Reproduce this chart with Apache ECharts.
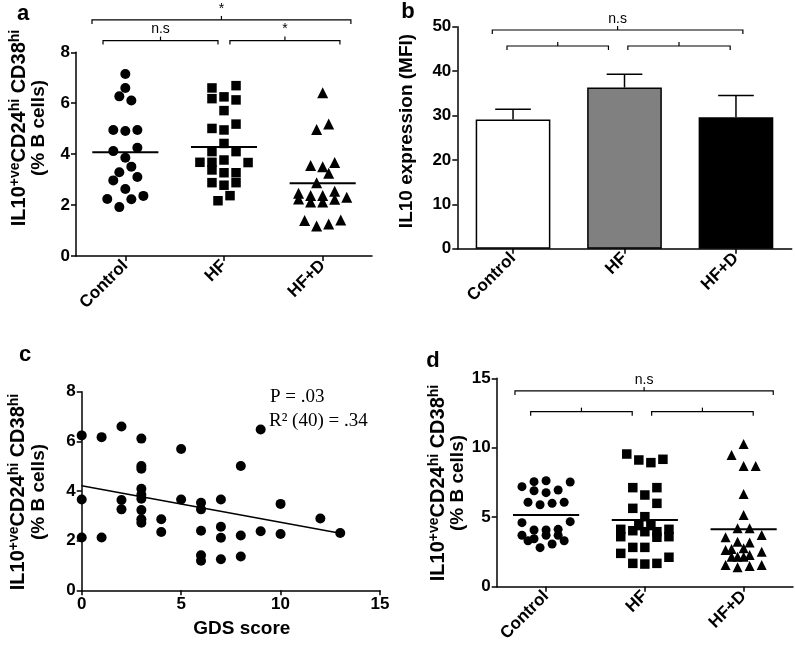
<!DOCTYPE html>
<html><head><meta charset="utf-8">
<script src="https://cdn.jsdelivr.net/npm/echarts@6/dist/echarts.min.js"></script>
<style>html,body{margin:0;padding:0;background:#fff}#c{width:795px;height:653px}</style>
</head><body><div id="c"></div>
<script>
// ---------- data ----------
const categories = ['Control', 'HF', 'HF+D'];

// Panel a: [horizontal slot, value]
const aControl = [[0,7.15],[0,6.6],[-1,6.27],[1,6.11],[-2,4.95],[0,4.91],[2,4.95],[-2,4.12],[2,4.25],[0,3.86],[1,3.51],[-1,3.29],[2,3.10],[-2,2.97],[0,2.63],[-3,2.24],[1,2.23],[3,2.36],[-1,1.92]];
const aHF = [[-2,6.6],[2,6.69],[-2,6.18],[0,6.25],[2,6.13],[0,5.71],[-2,5.01],[0,4.95],[2,5.18],[0,4.42],[-2,4.10],[2,4.10],[-4,3.68],[-2,3.68],[0,3.77],[4,3.67],[-2,3.38],[0,3.27],[2,3.27],[-2,2.88],[0,2.78],[2,2.88],[1,2.37],[-1,2.17]];
const aHFD = [[0,6.41],[-1,4.97],[1,5.18],[-2,3.55],[0,3.51],[2,3.67],[1,3.25],[-1,2.88],[-4,2.46],[-4,2.24],[-2,2.38],[-2,2.12],[0,2.38],[0,2.12],[2,2.54],[2,2.23],[4,2.31],[-3,1.39],[-1,1.18],[1,1.26],[3,1.41]];
const aMeans = [4.07, 4.28, 2.86];
const aBrackets = [
  {from: -0.338, to: 2.286, y: 9.27, label: '*'},
  {from: -0.226, to: 0.939, y: 8.46, label: 'n.s'},
  {from: 1.060, to: 2.175, y: 8.46, label: '*'}
];

// Panel b
const bMeans = [29.1, 36.3, 29.6];
const bErr = [2.3, 3.0, 4.9];
const bColors = ['#ffffff', '#808080', '#000000'];
const bBrackets = [
  {from: -0.186, to: 2.062, y: 49.26, label: 'n.s'},
  {from: -0.054, to: 0.856, y: 45.65, label: ''},
  {from: 1.030, to: 1.948, y: 45.65, label: ''}
];

// Panel c: [GDS score, value]
const cPoints = [[0,6.24],[0,3.66],[0,2.13],[1,6.17],[1,2.13],[2,6.60],[2,3.64],[2,3.26],[3,6.11],[3,5.01],[3,4.90],[3,4.09],[3,3.85],[3,3.69],[3,3.23],[3,2.86],[3,2.72],[4,2.86],[4,2.35],[5,5.69],[5,3.66],[6,3.53],[6,3.26],[6,2.40],[6,1.41],[6,1.19],[7,3.66],[7,2.56],[7,2.12],[7,1.25],[8,5.01],[8,2.21],[8,1.36],[9,6.48],[9,2.38],[10,3.48],[10,2.27],[12,2.89],[13,2.31]];
const cFit = [[0,4.21],[13,2.30]];
const cStats = ['P = .03', 'R\u00B2 (40) = .34'];

// Panel d
const dControl = [[-4,7.20],[-2,7.56],[0,7.63],[4,7.54],[-2,6.91],[0,6.77],[2,6.96],[-3,6.08],[-1,5.90],[1,6.00],[3,6.08],[-4,4.61],[4,4.68],[-2,4.08],[0,4.08],[2,4.13],[-4,3.70],[0,3.70],[2,3.70],[-3,3.31],[-2,3.45],[3,3.31],[-1,2.81],[1,3.07]];
const dHF = [[-3,9.55],[-1,9.12],[1,8.93],[3,9.17],[-2,7.13],[2,7.13],[0,6.60],[2,6.00],[-2,5.64],[0,5.04],[-1,4.40],[1,4.40],[0,3.96],[-4,4.13],[4,4.13],[-2,4.03],[2,3.96],[-4,3.60],[4,3.60],[2,3.56],[-2,2.83],[0,2.83],[-4,2.40],[4,2.12],[-2,1.68],[0,1.63],[2,1.68]];
const dHFD = [[0,10.27],[-2,9.48],[0,8.69],[2,8.69],[0,6.67],[0,5.16],[-1,4.20],[1,4.20],[-3,3.56],[3,3.72],[-1,3.24],[1,3.19],[-3,2.64],[-2,2.71],[0,2.76],[-1,2.16],[-2,2.16],[0,2.16],[1,2.28],[3,2.52],[-3,1.56],[-1,1.40],[1,1.49],[3,1.56]];
const dMeans = [5.16, 4.80, 4.13];
const dBrackets = [
  {from: -0.315, to: 2.300, y: 14.09, label: 'n.s'},
  {from: -0.156, to: 0.872, y: 12.60, label: ''},
  {from: 1.069, to: 2.097, y: 12.60, label: ''}
];

// ---------- styling ----------
const SLOT = 0.061;       // horizontal jitter step in category units
const MEAN_HALF = 0.335;  // half width of mean line in category units
const FONT = '"Liberation Sans", Arial, sans-serif';
const SERIF = '"Liberation Serif", "Times New Roman", serif';
const axisLine = {show: true, onZero: false, lineStyle: {color: '#000', width: 1.5}};
const axisTick = {show: true, length: 5, lineStyle: {color: '#000', width: 1.5}};
const tickLabel = {color: '#000', fontSize: 17, fontWeight: 'bold', fontFamily: FONT, margin: 6};

function catAxis(grid) {
  return {type: 'category', gridIndex: grid, data: categories, axisLine, axisTick: Object.assign({alignWithLabel: true}, axisTick),
    axisLabel: Object.assign({}, tickLabel, {rotate: 45, interval: 0, margin: 7}), splitLine: {show: false}};
}
function hiddenAxis(grid) {
  return {type: 'value', gridIndex: grid, min: -0.5, max: 2.5, show: false, axisLine: {show: false, onZero: false}};
}
function valAxis(grid, max, interval) {
  return {type: 'value', gridIndex: grid, min: 0, max, interval, axisLine, axisTick, axisLabel: tickLabel, splitLine: {show: false}};
}
function dots(xi, yi, data, cat, symbol, size) {
  return {type: 'scatter', xAxisIndex: xi, yAxisIndex: yi, symbol, symbolSize: size, silent: true,
    itemStyle: {color: '#000', opacity: 1}, data: data.map(p => [cat + p[0] * SLOT, p[1]])};
}
function meanSeries(xi, yi, means) {
  return {type: 'custom', xAxisIndex: xi, yAxisIndex: yi, silent: true, z: 5,
    data: means.map((m, i) => [i, m]),
    renderItem: (params, api) => {
      const a = api.coord([api.value(0) - MEAN_HALF, api.value(1)]);
      const b = api.coord([api.value(0) + MEAN_HALF, api.value(1)]);
      return {type: 'line', shape: {x1: a[0], y1: a[1], x2: b[0], y2: b[1]}, style: {stroke: '#000', lineWidth: 2}};
    }};
}
function bracketSeries(xi, yi, list) {
  return {type: 'custom', xAxisIndex: xi, yAxisIndex: yi, clip: false, silent: true,
    data: list.map(b => [b.from, b.to, b.y]),
    renderItem: (params, api) => {
      const br = list[params.dataIndex];
      const p1 = api.coord([api.value(0), api.value(2)]);
      const p2 = api.coord([api.value(1), api.value(2)]);
      const y = p1[1], mx = (p1[0] + p2[0]) / 2;
      const children = [
        {type: 'polyline', shape: {points: [[p1[0], y + 4], [p1[0], y], [p2[0], y], [p2[0], y + 4]]}, style: {stroke: '#000', lineWidth: 1.2, fill: null}},
        {type: 'line', shape: {x1: mx, y1: y, x2: mx, y2: y - 4}, style: {stroke: '#000', lineWidth: 1.2}}
      ];
      if (br.label) children.push({type: 'text', x: mx, y: y - 4, style: {text: br.label, fill: '#000', font: '14px ' + FONT, align: 'center', verticalAlign: 'bottom'}});
      return {type: 'group', children};
    }};
}

const TITLE_RICH = {
  m: {fontSize: 20, fontWeight: 'bold', fontFamily: FONT, fill: '#000', color: '#000', lineHeight: 22, verticalAlign: 'middle'},
  s: {fontSize: 14, fontWeight: 'bold', fontFamily: FONT, fill: '#000', color: '#000', lineHeight: 11, verticalAlign: 'top'}
};
const TITLE_L1 = '{m|IL10}{s|+ve}{m|CD24}{s|hi}{m| CD38}{s|hi}';
const TITLE_L2 = '(% B cells)';
function yTitle(x1, x2, y) {
  return [
    {type: 'text', x: x1, y, rotation: Math.PI / 2, style: {text: TITLE_L1, rich: TITLE_RICH, align: 'center', verticalAlign: 'middle', fill: '#000'}},
    {type: 'text', x: x2, y, rotation: Math.PI / 2, style: {text: TITLE_L2, fill: '#000', font: 'bold 19px ' + FONT, align: 'center', verticalAlign: 'middle'}}
  ];
}
function letter(x, y, t) {
  return {type: 'text', x, y, style: {text: t, fill: '#000', font: 'bold 22px ' + FONT, align: 'center', verticalAlign: 'middle'}};
}

const chart = echarts.init(document.getElementById('c'), null, {renderer: 'canvas'});
chart.setOption({
  animation: false,
  backgroundColor: '#fff',
  grid: [
    {left: 76, top: 52.3, width: 296, height: 203.7},
    {left: 457.3, top: 26.7, width: 334.4, height: 222},
    {left: 81.7, top: 391.7, width: 298.3, height: 198.6},
    {left: 496.7, top: 378.3, width: 296.3, height: 208.4}
  ],
  xAxis: [
    catAxis(0), hiddenAxis(0),
    catAxis(1), hiddenAxis(1),
    Object.assign(valAxis(2, 15, 5), {name: 'GDS score', nameLocation: 'middle', nameGap: 29,
      nameTextStyle: {color: '#000', fontSize: 19, fontWeight: 'bold', fontFamily: FONT, padding: [0, 0, 0, 22]}}),
    catAxis(3), hiddenAxis(3)
  ],
  yAxis: [valAxis(0, 8, 2), valAxis(1, 50, 10), valAxis(2, 8, 2), valAxis(3, 15, 5)],
  series: [
    // panel a
    dots(1, 0, aControl, 0, 'circle', 10),
    dots(1, 0, aHF, 1, 'rect', 9.5),
    dots(1, 0, aHFD, 2, 'triangle', 11),
    meanSeries(1, 0, aMeans),
    bracketSeries(1, 0, aBrackets),
    // panel b
    {type: 'bar', xAxisIndex: 2, yAxisIndex: 1, barWidth: '67%', silent: true,
      data: bMeans.map((v, i) => ({value: v, itemStyle: {color: bColors[i], borderColor: '#000', borderWidth: 1.5}}))},
    {type: 'custom', xAxisIndex: 2, yAxisIndex: 1, silent: true, z: 3,
      data: bMeans.map((m, i) => [i, m, m + bErr[i]]),
      renderItem: (params, api) => {
        const p0 = api.coord([api.value(0), api.value(1)]);
        const p1 = api.coord([api.value(0), api.value(2)]);
        const hw = api.size([1, 0])[0] * 0.16;
        return {type: 'group', children: [
          {type: 'line', shape: {x1: p0[0], y1: p0[1], x2: p1[0], y2: p1[1]}, style: {stroke: '#000', lineWidth: 1.5}},
          {type: 'line', shape: {x1: p1[0] - hw, y1: p1[1], x2: p1[0] + hw, y2: p1[1]}, style: {stroke: '#000', lineWidth: 1.5}}
        ]};
      }},
    bracketSeries(3, 1, bBrackets),
    // panel c
    {type: 'scatter', xAxisIndex: 4, yAxisIndex: 2, symbol: 'circle', symbolSize: 10, silent: true, itemStyle: {color: '#000', opacity: 1}, data: cPoints},
    {type: 'line', xAxisIndex: 4, yAxisIndex: 2, data: cFit, showSymbol: false, silent: true, lineStyle: {color: '#000', width: 1.5}},
    // panel d
    dots(6, 3, dControl, 0, 'circle', 9),
    dots(6, 3, dHF, 1, 'rect', 9.5),
    dots(6, 3, dHFD, 2, 'triangle', 10),
    meanSeries(6, 3, dMeans),
    bracketSeries(6, 3, dBrackets)
  ],
  graphic: [
    letter(23, 14, 'a'), letter(408, 12, 'b'), letter(25, 355, 'c'), letter(433, 361, 'd'),
    ...yTitle(19, 39, 128),
    {type: 'text', x: 407, y: 131, rotation: Math.PI / 2, style: {text: 'IL10 expression (MFI)', fill: '#000', font: 'bold 19px ' + FONT, align: 'center', verticalAlign: 'middle'}},
    ...yTitle(18, 39, 492),
    ...yTitle(438, 458, 483),
    {type: 'text', x: 270, y: 397, style: {text: cStats[0], fill: '#000', font: '19px ' + SERIF, verticalAlign: 'middle'}},
    {type: 'text', x: 269, y: 421, style: {text: cStats[1], fill: '#000', font: '19px ' + SERIF, verticalAlign: 'middle'}}
  ]
});
</script></body></html>
